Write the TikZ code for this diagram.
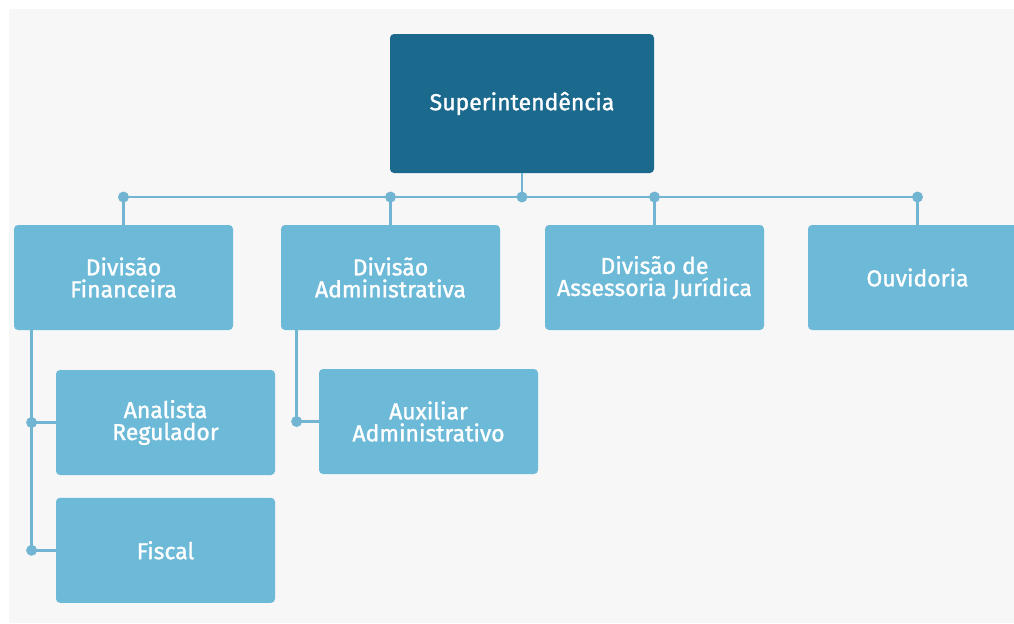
\documentclass[tikz,border=0pt]{standalone}
\usepackage{fontspec}
\setmainfont{Fira Sans}
\newfontfamily\unitfont{Fira Sans}[FakeBold=1.3]
\usepackage{xcolor}
\usetikzlibrary{positioning}

\definecolor{topblue}{HTML}{1B6A8E}
\definecolor{boxblue}{HTML}{6DBAD8}
\definecolor{linkblue}{HTML}{72B5D3}
\definecolor{pagegray}{HTML}{F7F7F7}

\begin{document}
\begin{tikzpicture}[x=0.5pt, y=-0.5pt]
        % Define styles
        \tikzset{
            unit/.style={rectangle, rounded corners=2pt, fill=boxblue, text=white, align=center, inner sep=0pt,
                minimum width=109.5pt, minimum height=52.5pt, font=\unitfont\fontsize{11.5}{11}\selectfont},
            head/.style={unit, fill=topblue, minimum width=132pt, minimum height=69.5pt},
            link/.style={linkblue, line width=1.3pt},
            dot/.style={circle, fill=linkblue, inner sep=0pt, minimum size=5.5pt}
        }

        \useasboundingbox (0,0) rectangle (1014,623);
        \fill[pagegray] (9,9) rectangle (1014,623);

        % Create nodes
        \node [head] (super) at (522,103.5) {Superintendência};
        \node [unit] (fin) at (123.5,277.5) {Divisão\\Financeira};
        \node [unit] (adm) at (390.5,277.5) {Divisão\\Administrativa};
        \node [unit] (jur) at (654.5,277.5) {Divisão de\\Assessoria Jurídica};
        \node [unit] (ouv) at (917.5,277.5) {Ouvidoria};
        \node [unit] (ana) at (165.5,422.5) {Analista\\Regulador};
        \node [unit, below=11pt of ana] (fis) {Fiscal};
        \node [unit] (aux) at (428.5,421.5) {Auxiliar\\Administrativo};

        % Create links
        \coordinate (busL) at (123,197);
        \coordinate (busR) at (916,197);
        \coordinate (finspine) at ([xshift=9pt]fin.south west);
        \coordinate (admspine) at ([xshift=8pt]adm.south west);
        \draw [link] (busL) -- (busR);
        \draw [link] (super.south) -- (super.south |- busL) node [dot] {};
        \foreach \unitname in {fin, adm, jur, ouv}
            \draw [link] (\unitname.north |- busL) node [dot] {} -- (\unitname.north);
        \draw [link] (finspine) |- (fis.west) node [pos=0.5, dot] {};
        \draw [link] (ana.west) -- (ana.west -| finspine) node [dot] {};
        \draw [link] (admspine) |- (aux.west) node [pos=0.5, dot] {};
    \end{tikzpicture}
\end{document}
